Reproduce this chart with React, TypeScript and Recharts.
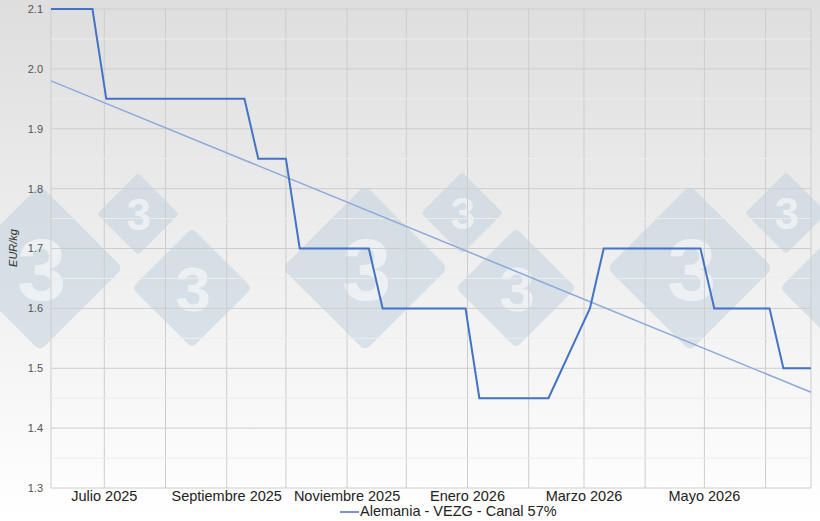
import { LineChart, Line, XAxis, YAxis, CartesianGrid, ReferenceLine, Legend } from "recharts";

const DAY = 24 * 3600 * 1000;
const firstWeek = Date.UTC(2025, 5, 4);

// weekly price, EUR/kg carcass
const prices = [
  2.1, 2.1, 2.1, 2.1,
  1.95, 1.95, 1.95, 1.95, 1.95, 1.95, 1.95, 1.95, 1.95, 1.95, 1.95,
  1.85, 1.85, 1.85,
  1.7, 1.7, 1.7, 1.7, 1.7, 1.7,
  1.6, 1.6, 1.6, 1.6, 1.6, 1.6, 1.6,
  1.45, 1.45, 1.45, 1.45, 1.45, 1.45,
  1.5, 1.55, 1.6,
  1.7, 1.7, 1.7, 1.7, 1.7, 1.7, 1.7, 1.7,
  1.6, 1.6, 1.6, 1.6, 1.6,
  1.5, 1.5, 1.5,
];

// trend line ends
const trendStart = 1.98;
const trendEnd = 1.46;

const monthTicks = [
  Date.UTC(2025, 6, 1), Date.UTC(2025, 7, 1), Date.UTC(2025, 8, 1), Date.UTC(2025, 9, 1),
  Date.UTC(2025, 10, 1), Date.UTC(2025, 11, 1), Date.UTC(2026, 0, 1), Date.UTC(2026, 1, 1),
  Date.UTC(2026, 2, 1), Date.UTC(2026, 3, 1), Date.UTC(2026, 4, 1), Date.UTC(2026, 5, 1),
];
const monthLabels = [
  "Julio 2025", "", "Septiembre 2025", "", "Noviembre 2025", "", "Enero 2026", "",
  "Marzo 2026", "", "Mayo 2026", "",
];

const yTicks = [1.3, 1.4, 1.5, 1.6, 1.7, 1.8, 1.9, 2.0, 2.1];
const yMinor = [1.35, 1.45, 1.55, 1.65, 1.75, 1.85, 1.95, 2.05];

const seriesName = "Alemania - VEZG - Canal 57%";

const data = prices.map((p, i) => ({
  date: firstWeek + i * 7 * DAY,
  price: p,
  trend: i === 0 ? trendStart : i === prices.length - 1 ? trendEnd : null,
}));

// 333 logo watermark: [cx, cy, half diagonal]
const marks = [
  [40, 268, 83], [138, 214, 41], [192, 288, 60],
  [365, 268, 83], [462, 213, 41], [516, 288, 60],
  [690, 268, 83], [786, 213, 41], [840, 288, 60],
];

function Watermark() {
  return (
    <svg width={820} height={521} style={{ position: "absolute", left: 0, top: 0 }}>
      {marks.map(([cx, cy, r], i) => {
        const s = r * Math.SQRT2;
        return (
          <g key={i}>
            <rect
              x={cx - s / 2}
              y={cy - s / 2}
              width={s}
              height={s}
              rx={r * 0.08}
              fill="#c3d1df"
              opacity={0.55}
              transform={`rotate(45 ${cx} ${cy})`}
            />
            {cx + r * 0.3 < 820 && (
              <text
                x={cx + r * 0.02}
                y={cy + r * 0.38}
                textAnchor="middle"
                fontSize={r * 1.06}
                fontWeight="bold"
                fontFamily="Liberation Sans, Arial, sans-serif"
                fill="#ffffff"
                opacity={0.55}
              >
                3
              </text>
            )}
          </g>
        );
      })}
    </svg>
  );
}

function LegendBox() {
  return (
    <div style={{ height: 19, lineHeight: "19px", fontSize: 14.5, color: "#222", paddingLeft: 340, whiteSpace: "nowrap" }}>
      <svg width={19} height={10} style={{ verticalAlign: "middle", marginRight: 1 }}>
        <line x1={0} y1={5} x2={19} y2={5} stroke="#4472c4" strokeWidth={1.5} />
      </svg>
      {seriesName}
    </div>
  );
}

export default function App() {
  return (
    <div
      style={{
        position: "absolute",
        left: 0,
        top: 0,
        width: 820,
        height: 521,
        background: "linear-gradient(#dedede, #f2f2f2 60%, #ffffff)",
        fontFamily: "Liberation Sans, Arial, sans-serif",
        overflow: "hidden",
      }}
    >
      <Watermark />
      <div style={{ position: "absolute", left: 0, top: 0 }}>
        <LineChart width={820} height={521} data={data} margin={{ top: 9, right: 9, left: 0, bottom: 0 }}>
          <CartesianGrid stroke="#cdcdcd" />
          {yMinor.map((v) => (
            <ReferenceLine key={v} y={v} stroke="#ececec" />
          ))}
          <XAxis
            dataKey="date"
            type="number"
            scale="time"
            domain={["dataMin", "dataMax"]}
            ticks={monthTicks}
            interval={0}
            tickFormatter={(v) => monthLabels[monthTicks.indexOf(v)] ?? ""}
            axisLine={false}
            tickLine={false}
            tickSize={0}
            tickMargin={3}
            height={14}
            tick={{ fontSize: 14.5, fill: "#222" }}
          />
          <YAxis
            domain={[1.3, 2.1]}
            ticks={yTicks}
            tickFormatter={(v) => v.toFixed(1)}
            axisLine={false}
            tickLine={false}
            width={51}
            tick={{ fontSize: 11, fill: "#555" }}
            label={{
              content: () => (
                <text
                  x={13}
                  y={248}
                  transform="rotate(-90 13 248)"
                  textAnchor="middle"
                  dominantBaseline="central"
                  fontSize={11}
                  fontStyle="italic"
                  fill="#333"
                >
                  EUR/kg
                </text>
              ),
            }}
          />
          <Legend verticalAlign="bottom" height={19} content={() => <LegendBox />} />
          <Line
            dataKey="trend"
            stroke="#8eaadb"
            strokeWidth={1.5}
            dot={false}
            connectNulls
            legendType="none"
            isAnimationActive={false}
          />
          <Line
            dataKey="price"
            name={seriesName}
            stroke="#4472c4"
            strokeWidth={2}
            dot={false}
            isAnimationActive={false}
          />
        </LineChart>
      </div>
    </div>
  );
}
